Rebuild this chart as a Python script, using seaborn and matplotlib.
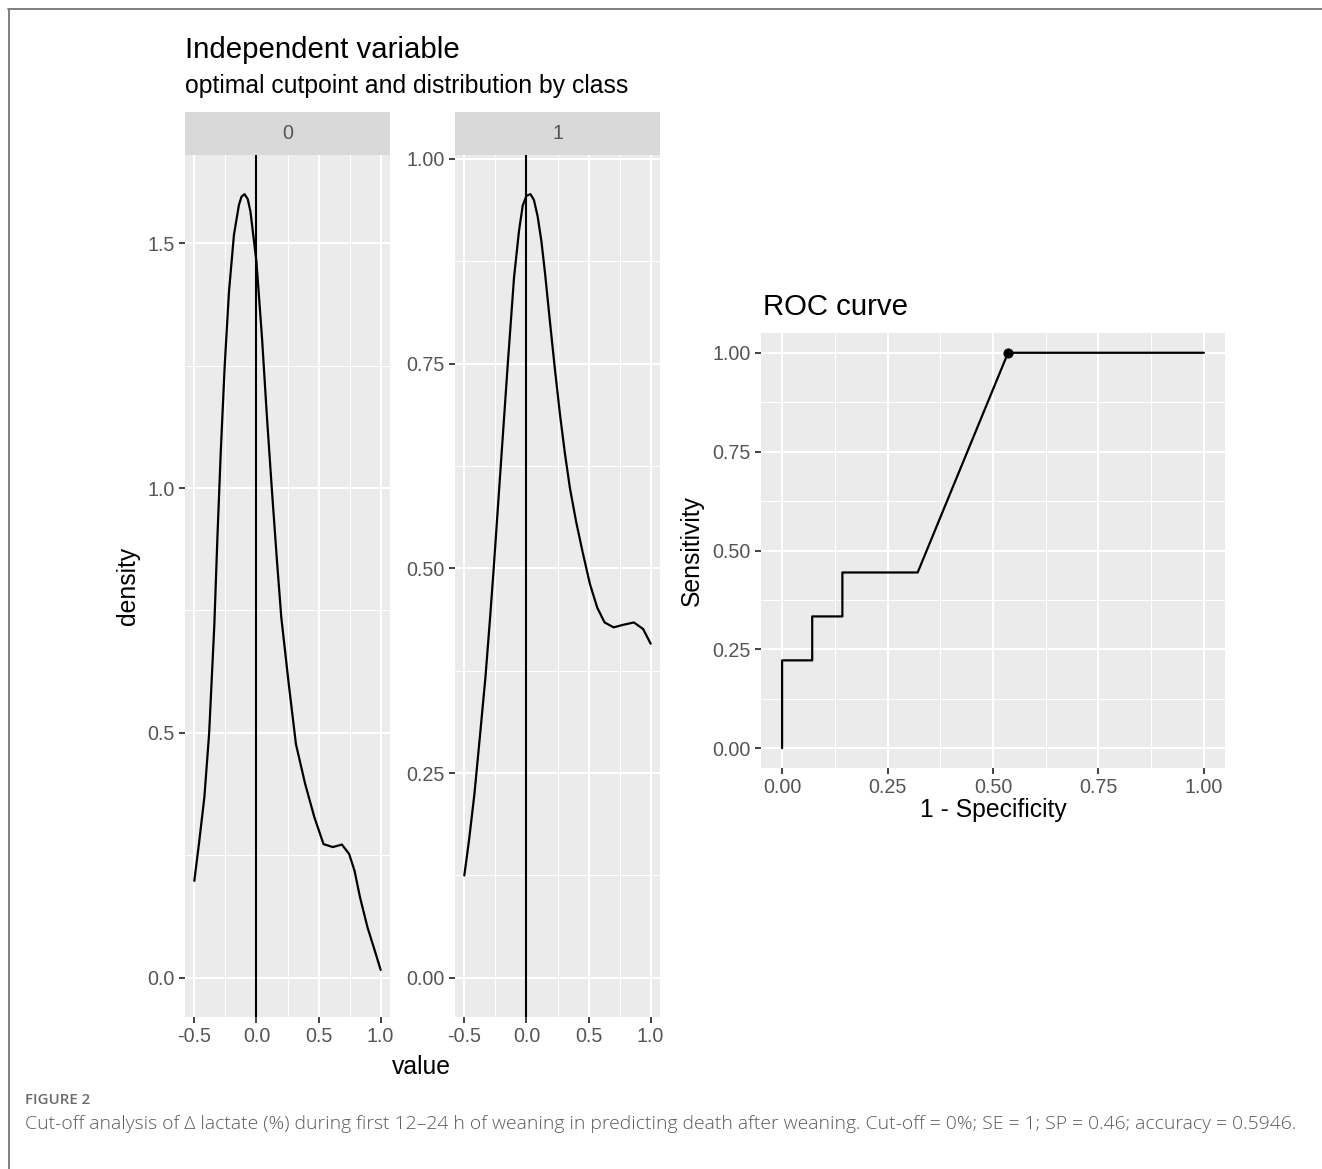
import numpy as np
import pandas as pd
import matplotlib
matplotlib.use("Agg")
import matplotlib.pyplot as plt
from matplotlib.lines import Line2D
import seaborn as sns

# ---------------- data ----------------
class0_value = [-0.50, -0.463, -0.419, -0.381, -0.339, -0.314, -0.287, -0.255, -0.221,
                -0.181, -0.141, -0.12, -0.096, -0.07, -0.048, 0.0, 0.045, 0.085, 0.125,
                0.165, 0.20, 0.26, 0.318, 0.392, 0.466, 0.54, 0.614, 0.688, 0.746, 0.79,
                0.834, 0.894, 0.953, 1.0]
class0_density = [0.198, 0.273, 0.369, 0.498, 0.72, 0.90, 1.075, 1.252, 1.401,
                  1.517, 1.578, 1.595, 1.60, 1.59, 1.564, 1.462, 1.306, 1.143, 0.994,
                  0.852, 0.736, 0.60, 0.477, 0.396, 0.328, 0.273, 0.267, 0.272, 0.253, 0.218,
                  0.164, 0.103, 0.055, 0.016]

class1_value = [-0.50, -0.463, -0.419, -0.375, -0.33, -0.292, -0.263, -0.20, -0.15, -0.10,
                -0.06, -0.03, 0.0, 0.032, 0.06, 0.09, 0.12, 0.15, 0.19, 0.23, 0.27, 0.31,
                0.35, 0.40, 0.452, 0.511, 0.57, 0.629, 0.702, 0.776, 0.865, 0.939, 1.0]
class1_density = [0.125, 0.167, 0.224, 0.294, 0.367, 0.441, 0.501, 0.64, 0.75, 0.855,
                  0.912, 0.943, 0.955, 0.957, 0.950, 0.930, 0.900, 0.860, 0.800, 0.742,
                  0.688, 0.640, 0.598, 0.557, 0.520, 0.481, 0.452, 0.434, 0.428, 0.431,
                  0.434, 0.426, 0.408]

cutpoint = 0.0
classes = ["0", "1"]

roc_fpr = [0.0, 0.0, 0.0714, 0.0714, 0.1429, 0.1429, 0.3214, 0.5357, 1.0]
roc_tpr = [0.0, 0.2222, 0.2222, 0.3333, 0.3333, 0.4444, 0.4444, 1.0, 1.0]
opt_fpr = [0.5357]
opt_tpr = [1.0]

panel0_yticks = [0.0, 0.5, 1.0, 1.5]
panel0_ylabels = ["0.0", "0.5", "1.0", "1.5"]
panel1_yticks = [0.0, 0.25, 0.5, 0.75, 1.0]
panel1_ylabels = ["0.00", "0.25", "0.50", "0.75", "1.00"]
dens_xticks = [-0.5, 0.0, 0.5, 1.0]
dens_xlabels = ["-0.5", "0.0", "0.5", "1.0"]
roc_ticks = [0.0, 0.25, 0.5, 0.75, 1.0]
roc_labels = ["0.00", "0.25", "0.50", "0.75", "1.00"]

caption_head = "FIGURE 2"
caption_text = ("Cut-off analysis of \u0394 lactate (%) during first 12\u201324 h of weaning in "
                "predicting death after weaning. Cut-off = 0%; SE = 1; SP = 0.46; accuracy = 0.5946.")

df0 = pd.DataFrame({"value": class0_value, "density": class0_density})
df1 = pd.DataFrame({"value": class1_value, "density": class1_density})
dfroc = pd.DataFrame({"fpr": roc_fpr, "tpr": roc_tpr})
dfopt = pd.DataFrame({"fpr": opt_fpr, "tpr": opt_tpr})

# ---------------- style ----------------
sns.set_theme(style="darkgrid", rc={
    "axes.facecolor": "#EBEBEB",
    "grid.color": "white",
    "axes.edgecolor": "none",
    "axes.unicode_minus": False,
    "xtick.color": "#333333",
    "ytick.color": "#333333",
    "xtick.labelcolor": "#555555",
    "ytick.labelcolor": "#555555",
    "lines.solid_capstyle": "round",
    "lines.solid_joinstyle": "round",
})
plt.rcParams["font.family"] = ["Liberation Sans", "DejaVu Sans"]

W, H = 1322, 1169
fig = plt.figure(figsize=(W / 100, H / 100), dpi=100)
fig.patch.set_facecolor("white")


def px_axes(left, top, right, bottom):
    return fig.add_axes([left / W, 1 - bottom / H, (right - left) / W, (bottom - top) / H])


TICK_FS = 14.2
BASE_FS = 17.8
TITLE_FS = 21.2


def style_axes(ax, xt, xl, yt, yl, xminor, yminor):
    ax.set_xticks(xt)
    ax.set_xticklabels(xl)
    ax.set_yticks(yt)
    ax.set_yticklabels(yl)
    ax.set_xticks(xminor, minor=True)
    ax.set_yticks(yminor, minor=True)
    ax.grid(which="major", color="white", lw=1.5)
    ax.grid(which="minor", color="white", lw=0.75)
    ax.tick_params(which="major", length=4.5, width=1.3, labelsize=TICK_FS, pad=3,
                   bottom=True, left=True)
    ax.tick_params(which="minor", length=0, bottom=False, left=False)
    ax.set_xlabel("")
    ax.set_ylabel("")
    for s in ax.spines.values():
        s.set_visible(False)
    ax.set_axisbelow(True)


# ---------------- density panels ----------------
ax0 = px_axes(185, 155, 390, 1017)
ax1 = px_axes(455, 155, 660, 1017)

for ax, df, yt, yl, ylim, ymin in [
        (ax0, df0, panel0_yticks, panel0_ylabels, (-0.08, 1.68), [0.25, 0.75, 1.25]),
        (ax1, df1, panel1_yticks, panel1_ylabels, (-0.0478, 1.0048), [0.125, 0.375, 0.625, 0.875])]:
    sns.lineplot(data=df, x="value", y="density", ax=ax, color="black", lw=1.6,
                 sort=False, estimator=None)
    ax.axvline(cutpoint, color="black", lw=1.5)
    ax.set_xlim(-0.575, 1.075)
    ax.set_ylim(*ylim)
    style_axes(ax, dens_xticks, dens_xlabels, yt, yl, [-0.25, 0.25, 0.75], ymin)

# strips
for (l, r), lab in zip([(185, 390), (455, 660)], classes):
    sax = px_axes(l, 112, r, 155)
    sax.set_facecolor("#D9D9D9")
    sax.grid(False)
    sax.set_xticks([])
    sax.set_yticks([])
    for s in sax.spines.values():
        s.set_visible(False)
    sax.text(0.5, 0.5, lab, transform=sax.transAxes, ha="center", va="center",
             fontsize=TICK_FS, color="#555555")

fig.text(185 / W, 1 - 50 / H, "Independent variable", fontsize=TITLE_FS, color="black",
         ha="left", va="center")
fig.text(185 / W, 1 - 86 / H, "optimal cutpoint and distribution by class", fontsize=BASE_FS,
         color="black", ha="left", va="center")
fig.text(128 / W, 1 - 586 / H, "density", fontsize=BASE_FS, rotation=90, ha="center",
         va="center", color="black")
fig.text(421 / W, 1 - 1067 / H, "value", fontsize=BASE_FS, ha="center", va="center",
         color="black")

# ---------------- ROC panel ----------------
axr = px_axes(761, 333, 1225, 768)
sns.lineplot(data=dfroc, x="fpr", y="tpr", ax=axr, color="black", lw=1.6, sort=False,
             estimator=None)
sns.scatterplot(data=dfopt, x="fpr", y="tpr", ax=axr, color="black", s=45, edgecolor="black",
                zorder=5)
axr.set_xlim(-0.05, 1.05)
axr.set_ylim(-0.05, 1.05)
style_axes(axr, roc_ticks, roc_labels, roc_ticks, roc_labels,
           [0.125, 0.375, 0.625, 0.875], [0.125, 0.375, 0.625, 0.875])

fig.text(763 / W, 1 - 307 / H, "ROC curve", fontsize=TITLE_FS, ha="left", va="center",
         color="black")
fig.text(993 / W, 1 - 810 / H, "1 - Specificity", fontsize=BASE_FS, ha="center", va="center",
         color="black")
fig.text(692 / W, 1 - 551 / H, "Sensitivity", fontsize=BASE_FS, rotation=90, ha="center",
         va="center", color="black")

# ---------------- frame and caption ----------------
fig.add_artist(Line2D([8 / W, 1.0], [1 - 9 / H, 1 - 9 / H], color="#7F7F7F", lw=1.4))
fig.add_artist(Line2D([8.5 / W, 8.5 / W], [1 - 9 / H, 0.0], color="#7F7F7F", lw=1.4))

cap_fam = ["Open Sans", "DejaVu Sans"]
fig.text(25 / W, 1 - 1100 / H, caption_head, fontsize=10.8, fontweight="semibold",
         color="#6B6B6B", ha="left", va="center", family=cap_fam)
cap = fig.text(25 / W, 1 - 1124 / H, caption_text, fontsize=12.5, color="#5A5A5A",
               fontweight="light", ha="left", va="center", family=cap_fam)

# fit caption width to the reference span
fig.canvas.draw()
renderer = fig.canvas.get_renderer()
w_now = cap.get_window_extent(renderer).width
target = 1298 - 25
cap.set_fontsize(12.5 * target / w_now)

fig.savefig("out.png", dpi=100, facecolor="white")
